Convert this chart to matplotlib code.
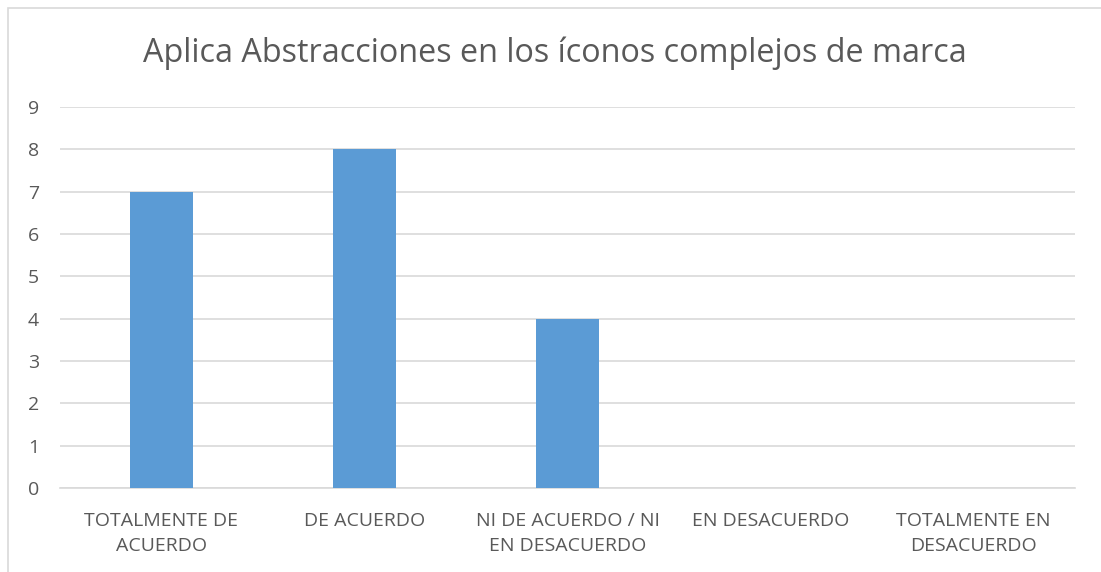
import matplotlib
matplotlib.use('Agg')
import matplotlib.pyplot as plt
import numpy as np
from matplotlib.patches import Rectangle

plt.rcParams['font.family'] = ['Open Sans', 'DejaVu Sans']

categories = ["TOTALMENTE DE\nACUERDO", "DE ACUERDO", "NI DE ACUERDO / NI\nEN DESACUERDO",
              "EN DESACUERDO", "TOTALMENTE EN\nDESACUERDO"]
values = [7, 8, 4, 0, 0]
title = "Aplica Abstracciones en los íconos complejos de marca"

txt = '#595959'
grid = '#D9D9D9'
bar_color = '#5B9BD5'

fig = plt.figure(figsize=(11.01, 5.72), dpi=100)
ax = fig.add_axes([60/1101, 1 - 488/572, (1075-60)/1101, (488-107)/572])

ind = np.arange(len(values))
ax.bar(ind, values, 0.31, color=bar_color, zorder=3)

ax.set_xlim(-0.5, len(values) - 0.5)
ax.set_ylim(0, 9)
ax.set_yticks(range(0, 10))
ax.yaxis.grid(True, color=grid, linewidth=1.2, zorder=0)
ax.set_xticks(ind)
ax.set_xticklabels(categories, fontsize=14, color=txt, linespacing=1.5)
ax.tick_params(axis='y', labelsize=14, labelcolor=txt, length=0, pad=15)
ax.tick_params(axis='x', length=0, pad=17)
for s in ['top', 'right', 'left']:
    ax.spines[s].set_visible(False)
ax.spines['bottom'].set_color(grid)
ax.spines['bottom'].set_linewidth(1.2)

fig.text(555/1101, 1 - 53/572, title, ha='center', va='center', fontsize=23.3, color=txt)

# chart border (cropped at right/bottom)
fig.patches.append(Rectangle((8/1101, -0.1), 1.2, 1 - 8/572 + 0.1, transform=fig.transFigure,
                             fill=False, edgecolor=grid, linewidth=1.2))

fig.savefig('out.png', dpi=100)
